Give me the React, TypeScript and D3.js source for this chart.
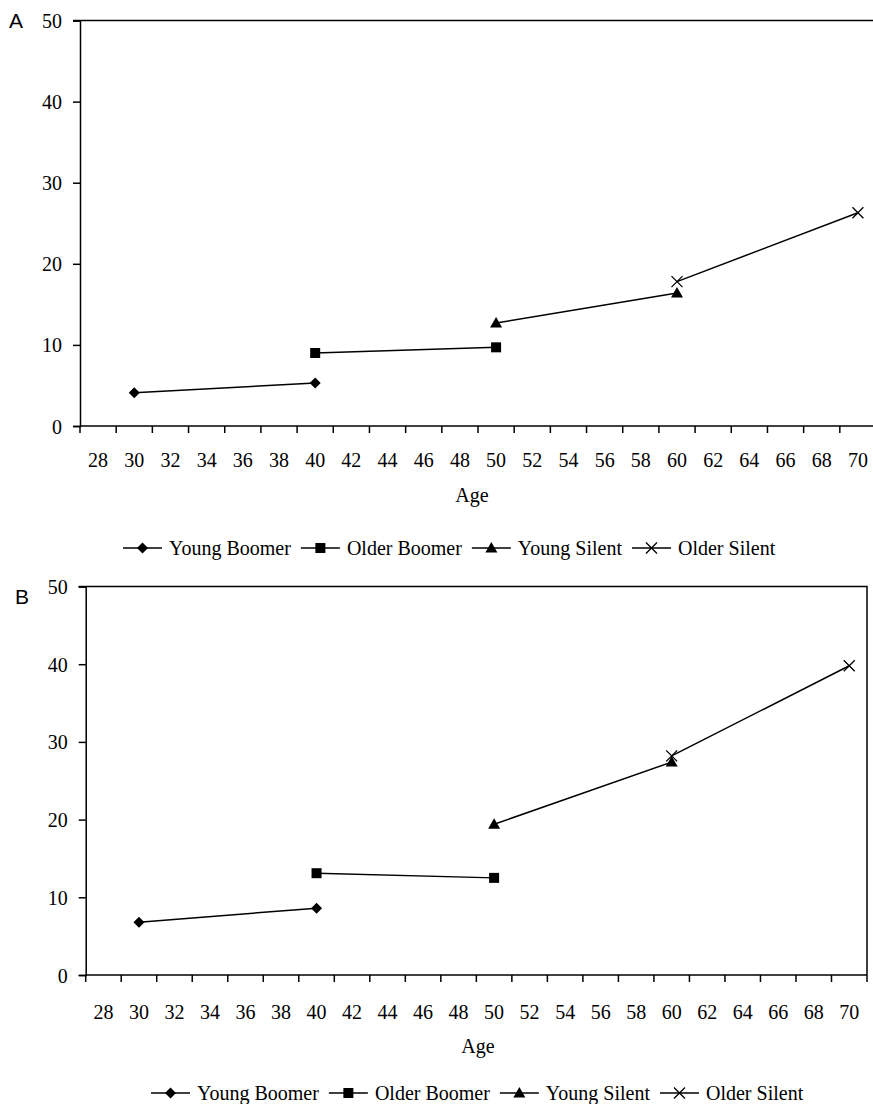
import React, { useEffect, useRef } from 'react';
import * as d3 from 'd3';

// x categories (age), drawn as a category axis
const ageLabels = ['28', '30', '32', '34', '36', '38', '40', '42', '44', '46', '48', '50', '52', '54', '56', '58', '60', '62', '64', '66', '68', '70'];
const yTicks = [0, 10, 20, 30, 40, 50];

const seriesNames = ['Young Boomer', 'Older Boomer', 'Young Silent', 'Older Silent'];
const seriesAges = [['30', '40'], ['40', '50'], ['50', '60'], ['60', '70']];

// panel A values
const valuesA = [[4.1, 5.3], [9.0, 9.7], [12.7, 16.4], [17.8, 26.3]];
// panel B values
const valuesB = [[6.8, 8.6], [13.1, 12.5], [19.4, 27.4], [28.2, 39.8]];

const markerTypes = ['diamond', 'square', 'triangle', 'cross'];

const serif = '"Liberation Serif", "DejaVu Serif", serif';
const sans = '"Liberation Sans", Arial, sans-serif';

function drawMarker(g, type, x, y) {
  if (type === 'diamond') {
    g.append('path')
      .attr('d', `M${x},${y - 5.5}L${x + 5.5},${y}L${x},${y + 5.5}L${x - 5.5},${y}Z`)
      .attr('fill', '#000');
  } else if (type === 'square') {
    g.append('rect').attr('x', x - 5).attr('y', y - 5).attr('width', 10).attr('height', 10).attr('fill', '#000');
  } else if (type === 'triangle') {
    g.append('path')
      .attr('d', `M${x},${y - 6}L${x + 6},${y + 4.5}L${x - 6},${y + 4.5}Z`)
      .attr('fill', '#000');
  } else {
    g.append('path')
      .attr('d', `M${x - 5.5},${y - 5.5}L${x + 5.5},${y + 5.5}M${x - 5.5},${y + 5.5}L${x + 5.5},${y - 5.5}`)
      .attr('stroke', '#000').attr('stroke-width', 1.3).attr('fill', 'none');
  }
}

function drawPanel(svg, p) {
  const x = d3.scaleBand().domain(ageLabels).range([p.x0, p.x1]).padding(0);
  const y = d3.scaleLinear().domain([0, 50]).range([p.yBottom, p.yTop]);
  const g = svg.append('g');

  // panel letter
  g.append('text').attr('x', p.letterX).attr('y', p.letterY)
    .style('font-family', sans).style('font-size', '21px').text(p.letter);

  // frame: top and right
  g.append('path')
    .attr('d', `M${p.x0 - 7},${p.yTop}H${p.x1}V${p.yBottom}`)
    .attr('fill', 'none').attr('stroke', '#000').attr('stroke-width', 1.5);

  // y axis
  const yAxis = g.append('g').attr('transform', `translate(${p.x0},0)`)
    .call(d3.axisLeft(y).tickValues(yTicks).tickSize(7).tickPadding(11).tickFormat(d3.format('d')));
  yAxis.select('.domain').attr('stroke-width', 1.5);
  yAxis.selectAll('line').attr('stroke-width', 1.5);
  yAxis.selectAll('text').style('font-family', serif).style('font-size', '20px').attr('dy', '0.35em');

  // x axis, ticks between categories
  g.append('line').attr('x1', p.x0).attr('x2', p.x1).attr('y1', p.yBottom).attr('y2', p.yBottom)
    .attr('stroke', '#000').attr('stroke-width', 1.5);
  const bounds = ageLabels.map(a => x(a)).concat([p.x1]);
  g.selectAll('.xt').data(bounds).enter().append('line')
    .attr('x1', d => d).attr('x2', d => d)
    .attr('y1', p.yBottom).attr('y2', p.yBottom + 7)
    .attr('stroke', '#000').attr('stroke-width', 1.5);
  g.selectAll('.xl').data(ageLabels).enter().append('text')
    .attr('x', d => x(d) + x.bandwidth() / 2).attr('y', p.yBottom + p.xLabelOff)
    .attr('text-anchor', 'middle').style('font-family', serif).style('font-size', '20px')
    .text(d => d);

  g.append('text').attr('x', p.ageX).attr('y', p.ageY).attr('text-anchor', 'middle')
    .style('font-family', serif).style('font-size', '20px').text('Age');

  // series
  const cx = a => x(a) + x.bandwidth() / 2;
  seriesNames.forEach((name, i) => {
    const pts = seriesAges[i].map((a, j) => [cx(a), y(p.values[i][j])]);
    g.append('path').attr('d', d3.line()(pts))
      .attr('fill', 'none').attr('stroke', '#000').attr('stroke-width', 1.5);
    pts.forEach(pt => drawMarker(g, markerTypes[i], pt[0], pt[1]));
  });

  // legend
  const lg = g.append('g').attr('transform', `translate(${p.legendX},${p.legendY})`);
  let cur = 0;
  seriesNames.forEach((name, i) => {
    lg.append('line').attr('x1', cur).attr('x2', cur + 39).attr('y1', -7).attr('y2', -7)
      .attr('stroke', '#000').attr('stroke-width', 1.5);
    drawMarker(lg, markerTypes[i], cur + 19.5, -7);
    const t = lg.append('text').attr('x', cur + 46).attr('y', 0)
      .style('font-family', serif).style('font-size', '20px').text(name);
    const w = t.node().getComputedTextLength();
    cur += 46 + w + 10;
  });
}

export default function App() {
  const ref = useRef(null);
  useEffect(() => {
    const svg = d3.select(ref.current);
    svg.selectAll('*').remove();
    drawPanel(svg, {
      letter: 'A', letterX: 9, letterY: 28,
      x0: 80, x1: 876, yTop: 20.5, yBottom: 426,
      xLabelOff: 41, ageX: 472, ageY: 502,
      legendX: 123, legendY: 555,
      values: valuesA,
    });
    drawPanel(svg, {
      letter: 'B', letterX: 15, letterY: 604,
      x0: 85.7, x1: 867, yTop: 586.5, yBottom: 975,
      xLabelOff: 44, ageX: 478, ageY: 1053,
      legendX: 151, legendY: 1100,
      values: valuesB,
    });
  }, []);
  return (
    <svg ref={ref} width={873} height={1104}
      style={{ position: 'absolute', left: 0, top: 0, background: '#fff' }} />
  );
}
